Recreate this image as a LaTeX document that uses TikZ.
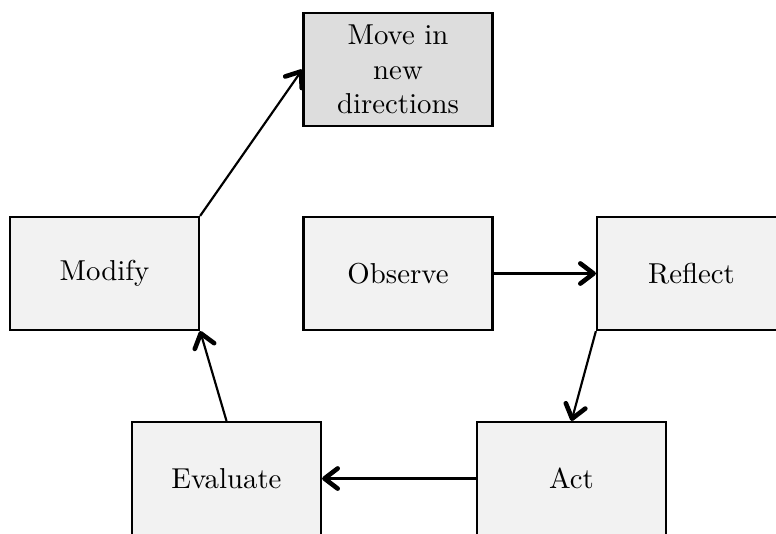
\documentclass[tikz,border=0pt]{standalone}
\usetikzlibrary{arrows.meta}
\definecolor{boxfill}{HTML}{F2F2F2}
\definecolor{goalfill}{HTML}{DDDDDD}
\begin{document}
\begin{tikzpicture}[x=0.3472pt,y=-0.3472pt,
  stagebox/.style={draw=black,line width=0.8pt,fill=boxfill,rectangle,
    minimum width=65.6pt,minimum height=39.2pt,inner sep=0pt,align=center,
    font=\normalsize},
  goalbox/.style={stagebox,fill=goalfill},
  flow/.style={line width=0.75pt,-{Straight Barb[length=4.6pt,width=7pt,line width=1.6pt,line cap=round,line join=round]}}]
\useasboundingbox (0,0) rectangle (776,533);
\clip (0,0) rectangle (776,533);
\node[goalbox] (move) at (398,69.5) {Move in\\new\\directions};
\node[stagebox] (modify) at (104.5,273.5) {Modify};
\node[stagebox] (observe) at (398,273.5) {Observe};
\node[stagebox] (reflect) at (691.5,273.5) {Reflect};
\node[stagebox] (evaluate) at (226.5,478.5) {Evaluate};
\node[stagebox] (act) at (571.5,478.5) {Act};
\draw[flow] (observe.east) -- (reflect.west);
\draw[flow] (reflect.south west) -- (act.north);
\draw[flow] (act.west) -- (evaluate.east);
\draw[flow] (evaluate.north) -- (modify.south east);
\draw[flow] (modify.north east) -- (move.west);
\end{tikzpicture}
\end{document}
